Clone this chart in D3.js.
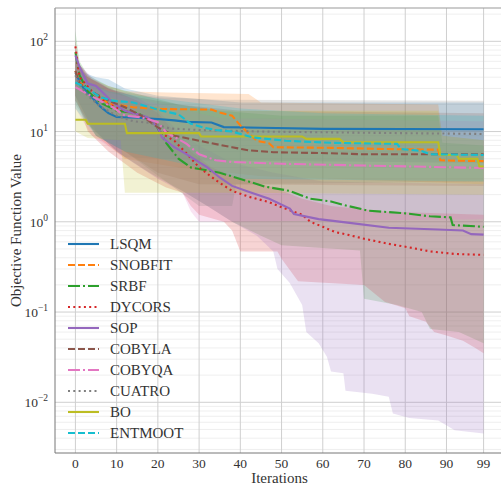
<!DOCTYPE html>
<html>
<head>
<meta charset="utf-8">
<script src="https://cdn.jsdelivr.net/npm/d3@7"></script>
<style>
  body { margin: 0; background: #fff; }
</style>
</head>
<body>
<div id="chart"></div>
<script>
// iteration ticks and methods
const xTicks = [0, 10, 20, 30, 40, 50, 60, 70, 80, 90, 99];
const yTicks = [0.01, 0.1, 1, 10, 100];
const methods = ["LSQM", "SNOBFIT", "SRBF", "DYCORS", "SOP", "COBYLA", "COBYQA", "CUATRO", "BO", "ENTMOOT"];
const colors = ["#1f77b4", "#ff7f0e", "#2ca02c", "#d62728", "#9467bd", "#8c564b", "#e377c2", "#7f7f7f", "#bcbd22", "#17becf"];
const dashes = ["none", "7,3", "12,3,2,3", "2,3.3", "none", "7,3", "12,3,2,3", "2,3.3", "none", "7,3"];
const serif = "Liberation Serif";

// mean curves, [iteration, value]
const lsqmMean = [[0,45],[1,36],[2,30],[4,24],[6,19],[8,16],[10,14.5],[15,14.2],[20,13.8],[24,13.3],[27,12.8],[33,12.6],[36,11.2],[45,11.0],[60,10.7],[99,10.6]];
const snobfitMean = [[0,47],[1,35],[5,26],[8,20.5],[14,18.6],[20,17.8],[33,17.5],[35,16.3],[38,15],[40,11.7],[44,7.9],[47,7.4],[48,6.7],[62,6.6],[75,6.4],[88,6.3],[88.5,4.8],[99,4.7]];
const srbfMean = [[0,76],[1,42],[3,28],[6,21],[10,17],[15,16],[19,13],[22,7.5],[25,5],[28,4],[35,3.5],[42,2.8],[46,2.45],[52,2.2],[57,1.8],[62,1.68],[66,1.5],[71,1.33],[80,1.24],[86,1.15],[91,1.12],[91.5,0.92],[99,0.88]];
const dycorsMean = [[0,88],[1,40],[4,28],[8,20],[12,17],[16,15],[19,13],[21,9.5],[24,7.9],[27,5.7],[30,4],[34,2.9],[38,2.2],[42,1.9],[47,1.65],[50,1.45],[55,1.2],[57,1.0],[60,0.88],[63,0.77],[66,0.72],[70,0.65],[76,0.57],[81,0.52],[86,0.47],[92,0.44],[99,0.43]];
const sopMean = [[0,70],[1,52],[3,34],[5,32],[7,26],[9,21],[12,17],[17.5,14.4],[20,11.1],[21,8.6],[24,6.7],[27,5.6],[32,4.0],[35,3.1],[38,2.5],[42,2.15],[47,1.8],[52,1.4],[53,1.22],[59,1.07],[66,0.98],[76,0.86],[88,0.82],[94,0.8],[96,0.73],[99,0.72]];
const cobylaMean = [[0,47],[1,34],[5,26],[8,22],[12,18.6],[16,15],[20,11.1],[24,9],[30,7.9],[38,6.7],[42,6.2],[48,5.9],[62,5.75],[70,5.6],[99,5.6]];
const cobyqaMean = [[0,31],[3,26],[6,22],[9,18.6],[12,15],[16,14.4],[20,12.7],[22,9.8],[27,7.3],[30,5.6],[34,4.8],[38,4.6],[50,4.4],[70,4.2],[99,3.95]];
const cuatroMean = [[0,42],[1,33],[3,25],[6,19],[10,15],[14,13],[18,12.5],[23,10.8],[30,10.4],[45,10],[70,9.7],[99,9.4]];
const boMean = [[0,13.5],[2.5,13.5],[3,12.2],[12,12.2],[12.5,9.6],[30,9.6],[30.5,8.8],[55,8.8],[56,8.3],[64,8.3],[65,7.6],[88,7.6],[88.5,5.5],[92.5,5.5],[93,5.0],[97.5,5.0],[98,4.1],[99,4.1]];
const entmootMean = [[0,35],[3,30],[6,24],[9,22],[14,21],[18,18.6],[21,17],[25,15.5],[28,12.2],[31,11.1],[34,10.4],[38,10],[43,8.6],[51,7.9],[62,7.5],[78,7.3],[79,6.4],[84,6.1],[86,5.6],[99,5.5]];

// spread bands: upper and lower edges
const lsqmHi = [[0,70],[2,45],[5,40],[8,38],[12,30],[20,25],[30,23],[40,21],[99,21]];
const lsqmLo = [[0,22],[3,12],[7,8],[12,5.2],[30,4.8],[99,4.5]];
const snobfitHi = [[0,60],[2,42],[8,32],[12,28],[22,27],[42,26],[45,21],[88,20],[89,9],[99,8]];
const snobfitLo = [[0,22],[5,9],[12,5],[25,4],[45,3.2],[99,2.6]];
const srbfHi = [[0,130],[1,60],[3,42],[8,32],[15,26],[25,20],[35,17],[50,15],[88,15],[89,7.5],[99,7]];
const srbfLo = [[0,25],[4,11],[10,6],[18,3.5],[26,2.2],[32,1.5],[38,1.0],[45,0.7],[50,0.55],[69,0.48],[70,0.14],[78,0.12],[84,0.1],[86,0.065],[93,0.06],[99,0.045]];
const dycorsHi = [[0,100],[1,55],[4,38],[8,30],[15,22],[20,16],[24,10],[28,6],[33,4],[40,3],[48,2.4],[55,1.8],[62,1.5],[75,1.3],[99,1.2]];
const dycorsLo = [[0,25],[3,10],[8,6],[15,3.5],[22,2.4],[26,2.1],[28,1.5],[30,1.2],[36,1.0],[38,0.8],[40,0.47],[49,0.47],[50,0.39],[54,0.22],[70,0.2],[75,0.13],[80,0.11],[81,0.09],[85,0.078],[87,0.06],[90,0.055],[94,0.048],[97,0.04],[99,0.035]];
const sopHi = [[0,85],[1,55],[4,40],[8,30],[15,24],[20,17],[25,10],[30,7],[38,4.5],[48,3.5],[60,2.8],[99,2.6]];
const sopLo = [[0,25],[3,14],[6,9],[10,6],[14,4.5],[20,3],[26,2.2],[32,1.5],[38,1.0],[44,0.7],[48,0.47],[49,0.3],[52,0.21],[55,0.12],[56,0.06],[59,0.045],[61,0.032],[62,0.022],[65,0.021],[65.5,0.0134],[72,0.0124],[76,0.0115],[77,0.0075],[81,0.0067],[88,0.0063],[92,0.0049],[99,0.0045]];
const cobylaHi = [[0,65],[3,40],[8,30],[15,24],[25,20],[40,17],[99,16]];
const cobylaLo = [[0,22],[5,9],[12,6],[20,3.5],[30,2.6],[99,2.5]];
const cobyqaHi = [[0,50],[3,35],[8,27],[15,23],[25,18],[35,14],[99,13]];
const cobyqaLo = [[0,18],[4,9],[10,6],[20,3],[26,2.1],[28,1.3],[30,1.0],[34,1.0],[99,1.07]];
const cuatroHi = [[0,65],[3,40],[10,28],[20,24],[35,22.5],[99,22]];
const cuatroLo = [[0,20],[5,9],[12,6],[22,2.8],[30,1.5],[38,1.5],[39,2.6],[99,2.8]];
const boHi = [[0,35],[3,28],[8,24],[15,20],[25,18],[40,17],[88,17],[89,9],[99,8]];
const boLo = [[0,10],[3,8.5],[11,8],[12,2.1],[40,2.1],[99,2.0]];
const entmootHi = [[0,50],[3,36],[8,28],[15,25],[25,22],[40,18],[60,16],[99,15]];
const entmootLo = [[0,18],[5,9],[12,6],[25,4.5],[40,3],[99,2.8]];

const means = [lsqmMean, snobfitMean, srbfMean, dycorsMean, sopMean, cobylaMean, cobyqaMean, cuatroMean, boMean, entmootMean];
const his = [lsqmHi, snobfitHi, srbfHi, dycorsHi, sopHi, cobylaHi, cobyqaHi, cuatroHi, boHi, entmootHi];
const los = [lsqmLo, snobfitLo, srbfLo, dycorsLo, sopLo, cobylaLo, cobyqaLo, cuatroLo, boLo, entmootLo];

const W = 501, H = 486;
const margin = {top: 8, right: -3, bottom: 33, left: 55};
const width = W - margin.left - margin.right,
  height = H - margin.top - margin.bottom;

const svg = d3.select('#chart').append('svg')
  .attr('width', W)
  .attr('height', H)
  .attr('font-family', serif);

const g = svg.append('g')
  .attr('transform', `translate(${margin.left}, ${margin.top})`);

const xScale = d3.scaleLinear()
  .domain([-4.95, 103.95])
  .range([0, width]);

const yScale = d3.scaleLog()
  .domain([0.002742, 233.9])
  .range([height, 0]);

// minor grid
const minorTicks = [];
for (let e = -3; e <= 2; e++) {
  for (let m = 2; m <= 9; m++) {
    const v = m * Math.pow(10, e);
    if (v > yScale.domain()[0] && v < yScale.domain()[1]) minorTicks.push(v);
  }
}
g.append('g').selectAll('line')
  .data(minorTicks)
  .join('line')
  .attr('x1', 0).attr('x2', width)
  .attr('y1', d => yScale(d)).attr('y2', d => yScale(d))
  .attr('stroke', '#ebebeb')
  .attr('stroke-width', 0.8);

// major grid
g.append('g').selectAll('line')
  .data(yTicks)
  .join('line')
  .attr('x1', 0).attr('x2', width)
  .attr('y1', d => yScale(d)).attr('y2', d => yScale(d))
  .attr('stroke', '#cfcfcf')
  .attr('stroke-width', 1);

g.append('g').selectAll('line')
  .data(xTicks)
  .join('line')
  .attr('x1', d => xScale(d)).attr('x2', d => xScale(d))
  .attr('y1', 0).attr('y2', height)
  .attr('stroke', '#cfcfcf')
  .attr('stroke-width', 1);

g.append('clipPath').attr('id', 'clip')
  .append('rect').attr('width', width).attr('height', height);

const plot = g.append('g').attr('clip-path', 'url(#clip)');

const line = d3.line()
  .x(d => xScale(d[0]))
  .y(d => yScale(d[1]));

// bands
plot.selectAll('path.band')
  .data(methods.map((m, i) => ({hi: his[i], lo: los[i], c: colors[i]})))
  .join('path')
  .attr('class', 'band')
  .attr('d', d => line(d.hi.concat(d.lo.slice().reverse())) + 'Z')
  .attr('fill', d => d.c)
  .attr('fill-opacity', 0.2)
  .attr('stroke', 'none');

// mean lines
plot.selectAll('path.mean')
  .data(methods.map((m, i) => ({v: means[i], c: colors[i], dash: dashes[i]})))
  .join('path')
  .attr('class', 'mean')
  .attr('d', d => line(d.v))
  .attr('fill', 'none')
  .attr('stroke', d => d.c)
  .attr('stroke-width', 2.1)
  .attr('stroke-dasharray', d => d.dash);

// spines
g.append('line').attr('x1', 0).attr('x2', 0).attr('y1', 0).attr('y2', height)
  .attr('stroke', '#777').attr('stroke-width', 1);
g.append('line').attr('x1', 0).attr('x2', width).attr('y1', height).attr('y2', height)
  .attr('stroke', '#777').attr('stroke-width', 1);
g.append('line').attr('x1', 0).attr('x2', width).attr('y1', 0).attr('y2', 0)
  .attr('stroke', '#999').attr('stroke-width', 1);

// x tick labels
g.append('g').selectAll('text')
  .data(xTicks)
  .join('text')
  .attr('x', d => xScale(d))
  .attr('y', height + 15)
  .attr('text-anchor', 'middle')
  .attr('fill', '#333')
  .attr('font-size', 13.5)
  .text(d => d);

// y tick labels as 10^n
const yLab = g.append('g').selectAll('text')
  .data(yTicks)
  .join('text')
  .attr('x', -7)
  .attr('y', d => yScale(d) + 5)
  .attr('text-anchor', 'end')
  .attr('fill', '#333')
  .attr('font-size', 13.5);
yLab.append('tspan').text('10');
yLab.append('tspan')
  .attr('dy', -6)
  .attr('font-size', 9.5)
  .text(d => String(Math.round(Math.log10(d))).replace('-', '\u2212'));

// axis titles
svg.append('text')
  .attr('x', margin.left + width / 2)
  .attr('y', 483)
  .attr('text-anchor', 'middle')
  .attr('fill', '#333')
  .attr('font-size', 15)
  .text('Iterations');

svg.append('text')
  .attr('transform', `translate(21, ${margin.top + height / 2}) rotate(-90)`)
  .attr('text-anchor', 'middle')
  .attr('fill', '#333')
  .attr('font-size', 15)
  .text('Objective Function Value');

// legend
const legend = svg.append('g')
  .attr('transform', 'translate(68, 244)');

const item = legend.selectAll('g')
  .data(methods)
  .join('g')
  .attr('transform', (d, i) => `translate(0, ${i * 21})`);

item.append('line')
  .attr('x1', 0).attr('x2', 31)
  .attr('stroke', (d, i) => colors[i])
  .attr('stroke-width', 2.1)
  .attr('stroke-dasharray', (d, i) => dashes[i]);

item.append('text')
  .attr('x', 42)
  .attr('y', 5)
  .attr('fill', '#333')
  .attr('font-size', 15)
  .text(d => d);
</script>
</body>
</html>
